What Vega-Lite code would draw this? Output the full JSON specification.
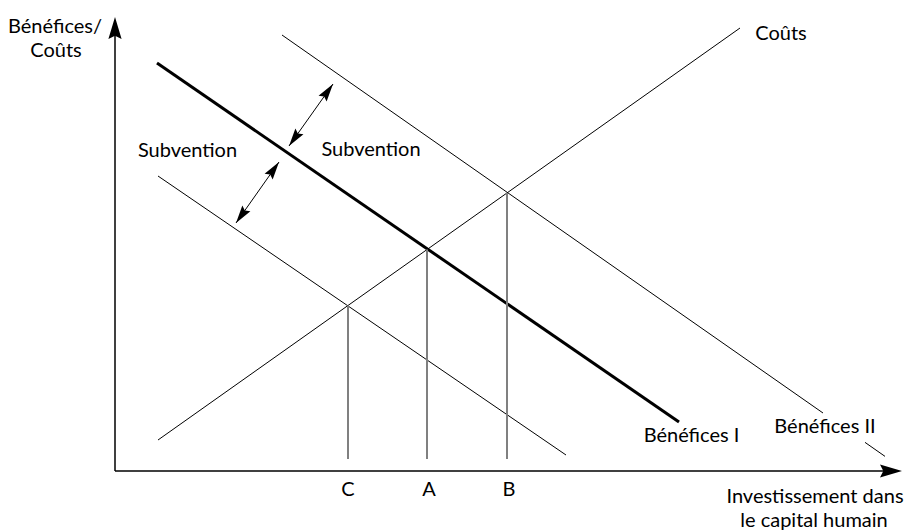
{
  "$schema": "https://vega.github.io/schema/vega-lite/v6.json",
  "width": 912,
  "height": 532,
  "autosize": {"type": "none"},
  "padding": 0,
  "background": "white",
  "config": {"view": {"stroke": null}},
  "datasets": {
    "lines": [
      {"id": "yaxis", "kind": "axis", "o": 0, "x": 0, "y": 0},
      {"id": "yaxis", "kind": "axis", "o": 1, "x": 0, "y": 55},
      {"id": "xaxis", "kind": "axis", "o": 0, "x": 0, "y": 0},
      {"id": "xaxis", "kind": "axis", "o": 1, "x": 96.5, "y": 0},
      {"id": "couts", "kind": "thin", "o": 0, "x": 5.375, "y": 3.875},
      {"id": "couts", "kind": "thin", "o": 1, "x": 78.125, "y": 55.375},
      {"id": "ben2a", "kind": "thin", "o": 0, "x": 20.875, "y": 54.5},
      {"id": "ben2a", "kind": "thin", "o": 1, "x": 88.5, "y": 7.25},
      {"id": "ben2b", "kind": "thin", "o": 0, "x": 93.75, "y": 3.58},
      {"id": "ben2b", "kind": "thin", "o": 1, "x": 96.25, "y": 1.83},
      {"id": "sub", "kind": "thin", "o": 0, "x": 5.375, "y": 36.875},
      {"id": "sub", "kind": "thin", "o": 1, "x": 56.375, "y": 2},
      {"id": "ben1", "kind": "thick", "o": 0, "x": 5.25, "y": 51},
      {"id": "ben1", "kind": "thick", "o": 1, "x": 70.5, "y": 6.125}
    ],
    "verticals": [
      {"name": "C", "x": 29.125, "y": 1.5, "y2": 20.69},
      {"name": "A", "x": 39, "y": 1.5, "y2": 27.68},
      {"name": "B", "x": 49, "y": 1.5, "y2": 34.76}
    ],
    "shafts": [
      {"x": 27.25, "y": 48.375, "x2": 21.75, "y2": 40.625},
      {"x": 20.5, "y": 38.625, "x2": 15.125, "y2": 31}
    ],
    "heads": [
      {"group": "small", "x": 27.25, "y": 48.375, "angle": 35.4},
      {"group": "small", "x": 21.75, "y": 40.625, "angle": 215.4},
      {"group": "small", "x": 20.5, "y": 38.625, "angle": 35.2},
      {"group": "small", "x": 15.125, "y": 31, "angle": 215.2},
      {"group": "axis", "x": 0, "y": 56.75, "angle": 0},
      {"group": "axis", "x": 98.375, "y": 0, "angle": 90}
    ],
    "labels": [
      {"text": "Bénéfices/", "x": -7.5, "y": 54.75},
      {"text": "Coûts", "x": -7.375, "y": 51.75},
      {"text": "Subvention", "x": 9.0625, "y": 39.25},
      {"text": "Subvention", "x": 32, "y": 39.375},
      {"text": "Coûts", "x": 83.25, "y": 53.875},
      {"text": "Bénéfices I", "x": 72.0625, "y": 3.625},
      {"text": "Bénéfices II", "x": 88.75, "y": 4.75},
      {"text": "Investissement dans", "x": 87.5, "y": -4},
      {"text": "le capital humain", "x": 87.375, "y": -7},
      {"text": "C", "x": 29.125, "y": -3.125},
      {"text": "A", "x": 39.25, "y": -3.125},
      {"text": "B", "x": 49.25, "y": -3.125}
    ]
  },
  "layer": [
    {
      "data": {"name": "lines"},
      "transform": [{"filter": "datum.kind === 'axis'"}],
      "mark": {"type": "line", "color": "black", "strokeWidth": 1.5},
      "encoding": {
        "x": {"field": "x", "type": "quantitative", "scale": {"domain": [-14.375, 99.625], "nice": false, "zero": false}, "axis": null},
        "y": {"field": "y", "type": "quantitative", "scale": {"domain": [-7.625, 58.875], "nice": false, "zero": false}, "axis": null},
        "detail": {"field": "id"},
        "order": {"field": "o"}
      }
    },
    {
      "data": {"name": "lines"},
      "transform": [{"filter": "datum.kind === 'thin'"}],
      "mark": {"type": "line", "color": "black", "strokeWidth": 1},
      "encoding": {
        "x": {"field": "x", "type": "quantitative", "axis": null},
        "y": {"field": "y", "type": "quantitative", "axis": null},
        "detail": {"field": "id"},
        "order": {"field": "o"}
      }
    },
    {
      "data": {"name": "lines"},
      "transform": [{"filter": "datum.kind === 'thick'"}],
      "mark": {"type": "line", "color": "black", "strokeWidth": 3},
      "encoding": {
        "x": {"field": "x", "type": "quantitative", "axis": null},
        "y": {"field": "y", "type": "quantitative", "axis": null},
        "detail": {"field": "id"},
        "order": {"field": "o"}
      }
    },
    {
      "data": {"name": "verticals"},
      "mark": {"type": "rule", "color": "#808080", "strokeWidth": 2},
      "encoding": {
        "x": {"field": "x", "type": "quantitative", "axis": null},
        "y": {"field": "y", "type": "quantitative", "axis": null},
        "y2": {"field": "y2"}
      }
    },
    {
      "data": {"name": "shafts"},
      "mark": {"type": "rule", "color": "black", "strokeWidth": 1},
      "encoding": {
        "x": {"field": "x", "type": "quantitative", "axis": null},
        "y": {"field": "y", "type": "quantitative", "axis": null},
        "x2": {"field": "x2"},
        "y2": {"field": "y2"}
      }
    },
    {
      "data": {"name": "heads"},
      "transform": [{"filter": "datum.group === 'small'"}],
      "mark": {"type": "point", "shape": "M0,0L-0.55,2L0,1.7L0.55,2Z", "filled": true, "color": "black", "opacity": 1, "strokeWidth": 0, "size": 324},
      "encoding": {
        "x": {"field": "x", "type": "quantitative", "axis": null},
        "y": {"field": "y", "type": "quantitative", "axis": null},
        "angle": {"field": "angle", "type": "quantitative", "scale": null}
      }
    },
    {
      "data": {"name": "heads"},
      "transform": [{"filter": "datum.group === 'axis'"}],
      "mark": {"type": "point", "shape": "M0,0L-0.6,2L0,1.7L0.6,2Z", "filled": true, "color": "black", "opacity": 1, "strokeWidth": 0, "size": 484},
      "encoding": {
        "x": {"field": "x", "type": "quantitative", "axis": null},
        "y": {"field": "y", "type": "quantitative", "axis": null},
        "angle": {"field": "angle", "type": "quantitative", "scale": null}
      }
    },
    {
      "data": {"name": "labels"},
      "mark": {"type": "text", "font": "Lato", "fontSize": 20, "color": "black", "align": "center", "baseline": "alphabetic"},
      "encoding": {
        "x": {"field": "x", "type": "quantitative", "axis": null},
        "y": {"field": "y", "type": "quantitative", "axis": null},
        "text": {"field": "text"}
      }
    }
  ]
}
